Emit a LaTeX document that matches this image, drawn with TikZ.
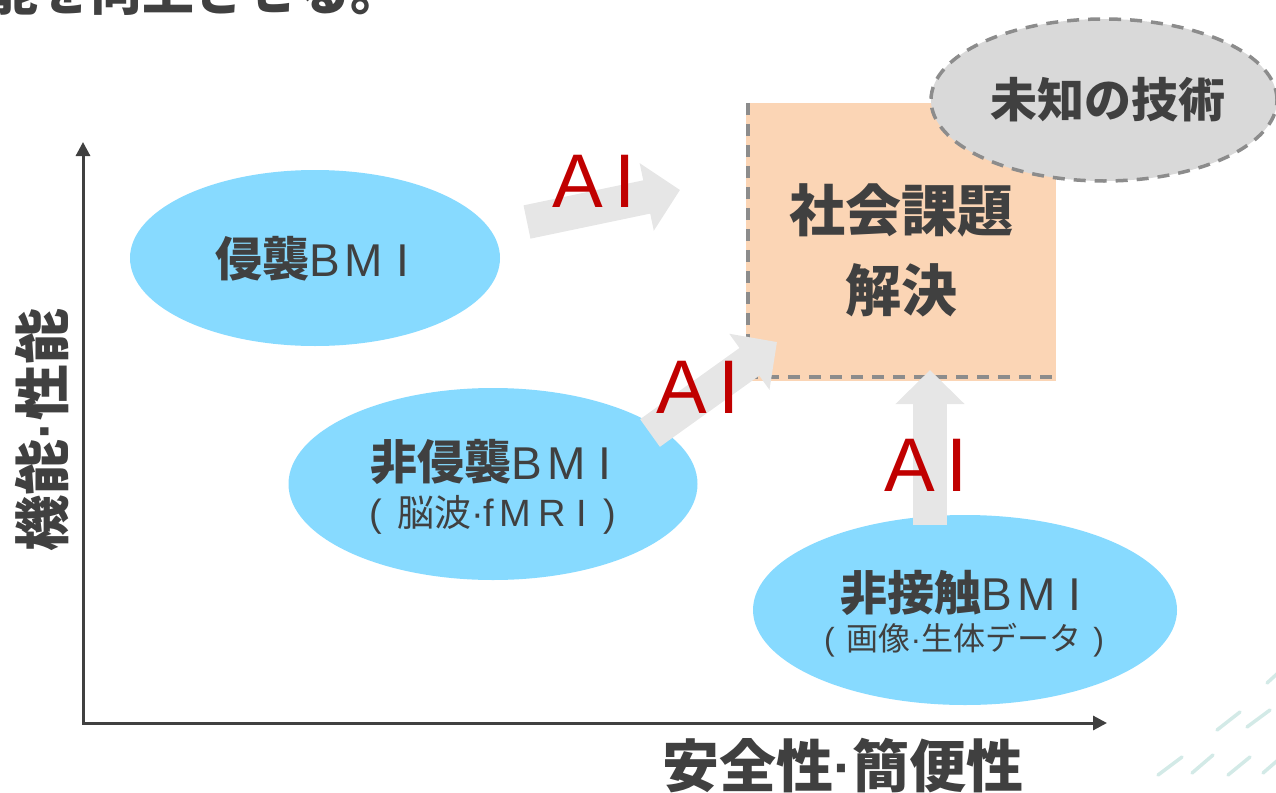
\documentclass[tikz,border=0pt]{standalone}
\usepackage{fontspec}
\newfontfamily\jp{Noto Sans CJK JP}
\newfontfamily\lat{Liberation Sans}
\usetikzlibrary{shapes.geometric,arrows.meta}
\definecolor{txt}{HTML}{404040}
\definecolor{bmicol}{HTML}{87DAFF}
\definecolor{goalcol}{HTML}{FBD5B5}
\definecolor{unkcol}{HTML}{D9D9D9}
\definecolor{dashcol}{HTML}{8C8C8C}
\definecolor{fatcol}{HTML}{E6E6E6}
\definecolor{aired}{HTML}{C00000}
\definecolor{decocol}{HTML}{D3EAE7}
\newcommand\fs[1]{\fontsize{#1}{#1}\selectfont}
\newcommand\bmitxt{B\kern5pt M\kern13pt I}
\begin{document}
\begin{tikzpicture}[x=1pt,y=-1pt,
  bmiell/.style={ellipse, fill=bmicol, draw=none, inner sep=0pt},
  fatarrow/.style={draw=fatcol, line width=34pt, -{Triangle[length=34pt,width=67pt]}},
  ailabel/.style={text=aired, font=\lat\fs{76}, inner sep=0pt},
  lbl/.style={text=txt, inner sep=0pt},
  axisline/.style={draw=txt, line width=3pt, line join=miter, {Triangle[length=14pt,width=14pt]}-{Triangle[length=14pt,width=14pt]}},
  dashbd/.style={draw=dashcol, line width=3.5pt, dash pattern=on 12pt off 9pt},
  deco/.style={draw=decocol, line width=3.5pt, line cap=round}]
\useasboundingbox (0,0) rectangle (1276,792);
\clip (0,0) rectangle (1276,792);

% cut-off heading
\node[lbl, font=\jp\bfseries\fs{52}, anchor=base west] (head) at (-14,11) {能を向上させる。};

% ellipses
\node[bmiell, minimum width=370, minimum height=176] (e1) at (315,258) {};
\node[bmiell, minimum width=409, minimum height=192] (e2) at (493,484) {};
\node[bmiell, minimum width=424, minimum height=190] (e3) at (965,610) {};

% goal square
\node[fill=goalcol, minimum width=310, minimum height=278, inner sep=0pt] (goal) at (901,242) {};
\draw[dashbd] ([xshift=2pt]goal.north west) |- ([yshift=4pt]goal.south east);

% unknown technology
\node[ellipse, fill=unkcol, dashbd, minimum width=346, minimum height=162, inner sep=0pt] (unk) at (1104,100) {};
\node[lbl, font=\jp\bfseries\fs{47}] (unkt) at (1108,100) {未知の技術};

% fat arrows
\coordinate (a1s) at (527,222); \coordinate (a1e) at (680,190);
\coordinate (a2s) at (650,433); \coordinate (a2e) at (777,342);
\coordinate (a3s) at (930,525); \coordinate (a3e) at (930,370);
\draw[fatarrow] (a1s) -- (a1e);
\draw[fatarrow] (a2s) -- (a2e);
\draw[fatarrow] (a3s) -- (a3e);

\node[ailabel] (ai1) at (594,181) {A\kern12pt I};
\node[ailabel] (ai2) at (698,387) {A\kern12pt I};
\node[ailabel] (ai3) at (926,465) {A\kern12pt I};

% texts
\node[lbl, font=\jp\bfseries\fs{56}] (g1) at (901,210) {社会課題};
\node[lbl, font=\jp\bfseries\fs{56}] (g2) at (901,290) {解決};

\node[lbl] (t1) at (312,259) {{\jp\bfseries\fs{47}侵襲}{\lat\fs{46}\bmitxt}};
\node[lbl] (t2a) at (491,462) {{\jp\bfseries\fs{47}非侵襲}{\lat\fs{46}\bmitxt}};
\node[lbl] (t2b) at (493,515) {{\lat\fs{38}(\hspace{15pt}}{\jp\fs{37}脳波}{\lat\fs{38}·f\kern5pt M\kern8pt R\kern10pt I\hspace{17pt})}};
\node[lbl] (t3a) at (961,593) {{\jp\bfseries\fs{47}非接触}{\lat\fs{46}\bmitxt}};
\node[lbl] (t3b) at (964,640) {{\lat\fs{32}(\hspace{12pt}}{\jp\fs{32}画像}{\lat\fs{32}·}{\jp\fs{32}生体データ}{\lat\fs{32}\hspace{12pt})}};

% axes
\coordinate (O) at (83,723);
\coordinate (ytip) at (83,142);
\coordinate (xtip) at (1107,723);
\draw[axisline] (ytip) -- (O) -- (xtip);

\node[lbl, font=\jp\bfseries\fs{56}, rotate=90] (ylab) at (42,430) {機能{\lat\bfseries·}性能};
\node[lbl, font=\jp\bfseries\fs{57}, anchor=base] (xlab) at (843,787) {安全性{\lat\bfseries·}簡便性};

% decorative strokes
\draw[deco] (1217,730) -- (1240,712);
\draw[deco] (1247,727) -- (1270,710);
\draw[deco] (1267,683) -- (1278,673);
\draw[deco] (1158,775) -- (1182,757);
\draw[deco] (1192,773) -- (1213,755);
\draw[deco] (1228,775) -- (1250,757);
\draw[deco] (1263,773) -- (1278,760);
\end{tikzpicture}
\end{document}
